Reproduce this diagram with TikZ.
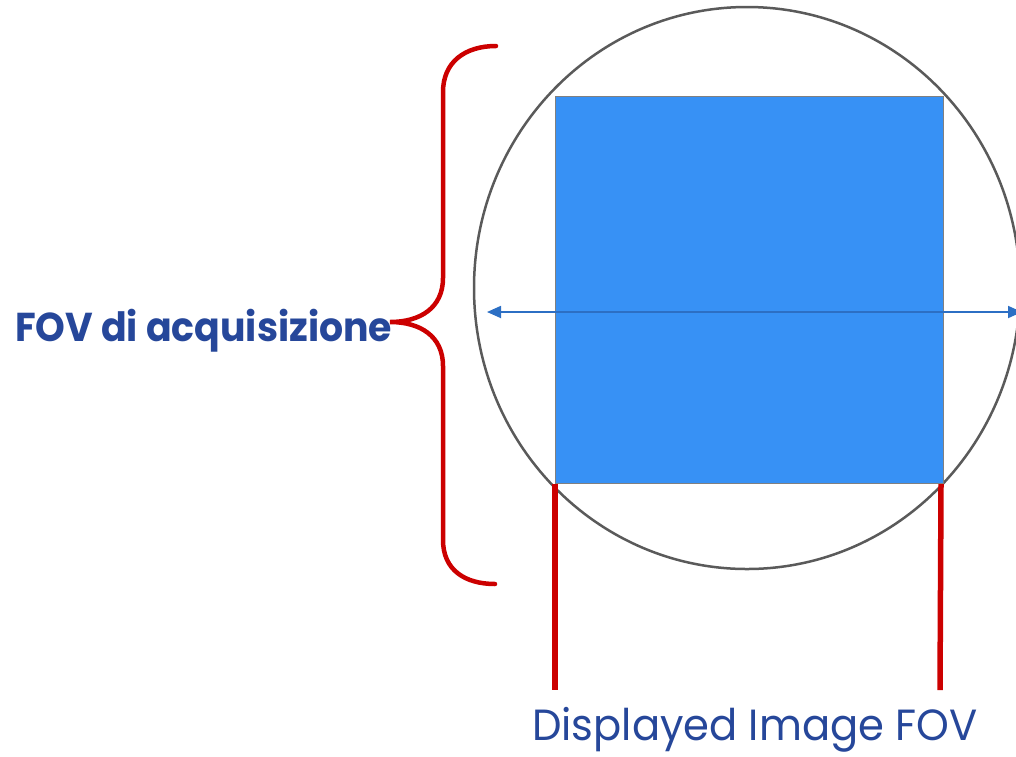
\documentclass[tikz,border=0pt]{standalone}
\usepackage{fontspec}
\setmainfont{Poppins}
\usetikzlibrary{arrows.meta}
\definecolor{txtblue}{HTML}{26479A}
\definecolor{bracered}{HTML}{CC0000}
\definecolor{rectblue}{HTML}{3791F5}
\definecolor{arrowblue}{HTML}{2C6FC4}
\definecolor{ringgray}{HTML}{5A5A5A}
\tikzset{
  ring/.style={draw=ringgray, line width=2.5pt},
  fovbox/.style={draw=gray, line width=1pt, fill=rectblue},
  redline/.style={draw=bracered, line width=5.5pt},
  bracestyle/.style={draw=bracered, line width=4.5pt, line cap=round},
  widthline/.style={draw=arrowblue, line width=1.8pt, {Triangle[length=14pt,width=12pt]}-{Triangle[length=14pt,width=12pt]}},
  label/.style={inner sep=0pt, text=txtblue}
}
\begin{document}
\begin{tikzpicture}[x=1pt,y=-1pt]
\useasboundingbox (0,0) rectangle (1016,756);
\clip (0,0) rectangle (1016,756);
% acquisition circle
\draw[ring] (747,288) ellipse [x radius=273, y radius=281];
% displayed square
\node[fovbox, minimum width=388pt, minimum height=387pt, anchor=north west, inner sep=0pt] (sq) at (555,96) {};
% width arrow
\coordinate (aL) at (487,312);
\coordinate (aR) at (1022,312);
\draw[widthline] (aL) -- (aR);
% red vertical lines
\coordinate (vL) at (555,690);
\coordinate (vR) at (940,690);
\draw[redline] (sq.south west) -- (vL);
\draw[redline] ([xshift=-3pt]sq.south east) -- (vR);
% brace
\coordinate (bTop) at (496,46);
\coordinate (bTip) at (390,322);
\coordinate (bBot) at (495,584);
\draw[bracestyle] (bTop) .. controls (465,46) and (443,62) .. (443,92)
  -- (443,278) .. controls (443,308) and (420,322) .. (bTip)
  .. controls (420,322) and (443,336) .. (443,366)
  -- (443,540) .. controls (443,570) and (465,584) .. (bBot);
% labels
\node[label, anchor=south west] (acq) at (15,352) {\resizebox*{377pt}{43pt}{\bfseries FOV di acquisizione}};
\node[label, anchor=south west] (disp) at (532,752) {\resizebox*{445pt}{45pt}{Displayed Image FOV}};
\end{tikzpicture}
\end{document}
